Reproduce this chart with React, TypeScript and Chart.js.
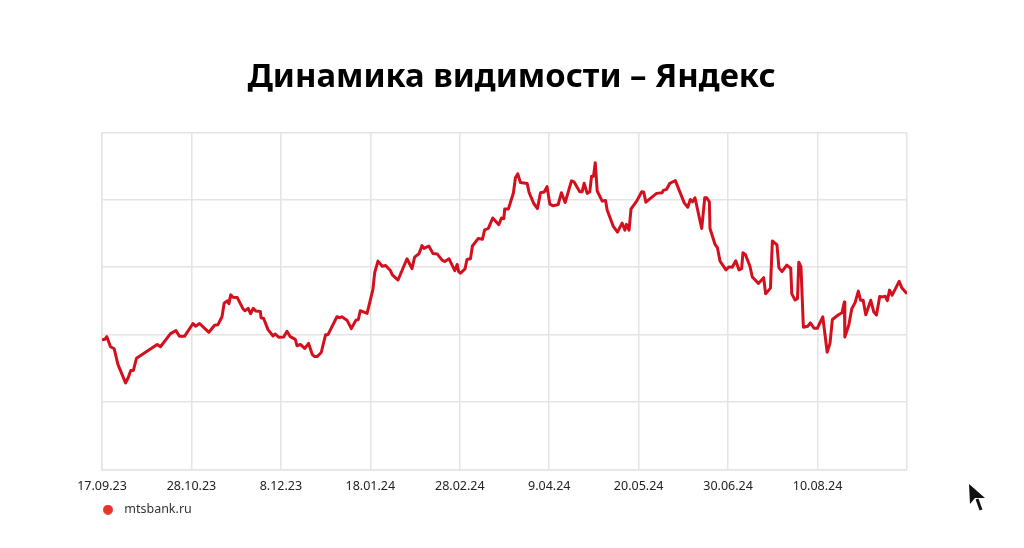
import React, { useEffect, useRef } from "react";
import { Chart, registerables } from "chart.js";

Chart.register(...registerables);

const chartTitle = "Динамика видимости – Яндекс";
const seriesName = "mtsbank.ru";
const tickLabels = ["17.09.23", "28.10.23", "8.12.23", "18.01.24", "28.02.24", "9.04.24", "20.05.24", "30.06.24", "10.08.24"];

// days since 17.09.23
const days = [
  0, 1.3, 2.2, 3.9, 5.6, 7.3, 10.8, 12, 13.2, 14.4, 15.8, 17.2, 25.3, 26.8, 31.4, 33.9, 35.5, 37.8, 40.1, 41.7,
  42.9, 44.7, 49, 51.6, 53.1, 55, 56, 57.4, 58.2, 59, 60, 62, 64.6, 65.5, 67, 68.1, 69.3, 70.6, 72.6, 72.9,
  74.1, 76.1, 78.4, 79.3, 81.1, 83.3, 84.8, 86.3, 88.6, 89.4, 90.9, 92.9, 94.7, 96.4, 97.5, 98.6, 100.5, 102.5, 103.6, 107.7,
  109, 109.9, 112.3, 114.3, 116.4, 117.5, 118.4, 121.5, 124.2, 125, 126.5, 128.5, 130, 132.2, 133.1, 135.7, 139.8, 142.1, 143.3, 145.3,
  146.7, 147.6, 149.8, 151.7, 153.7, 155.9, 157.1, 159.1, 161.7, 162.8, 163.5, 164.3, 166.4, 167.3, 168.9, 169.8, 172.4, 174.4, 175.4, 177.1,
  179.1, 181.9, 183.1, 184.2, 184.6, 186.3, 188.6, 189.5, 190.6, 191.8, 194.9, 195.8, 197.9, 199.6, 201, 202.7, 204, 205.3, 206.8, 209.1,
  210.6, 212.3, 215.2, 216.4, 219, 220.1, 221, 222.4, 223.6, 224.4, 225.3, 226.1, 227, 229.3, 230.8, 231.6, 234.3, 236.3, 238.4, 239.7,
  240.4, 241.6, 242.5, 245.1, 247.4, 248.3, 249.3, 254.2, 256.8, 257.3, 258.8, 260.3, 262.8, 266.9, 268.5, 269.7, 270.7, 271.8, 274.9, 276.3,
  277.2, 278.4, 278.7, 281, 282.1, 283.3, 286, 287.4, 288.9, 290.5, 292, 293.2, 293.8, 294.9, 297, 298.1, 300.9, 303.3, 304.2, 306.4,
  307.3, 309.4, 310.3, 311.7, 313.9, 315.7, 316.2, 317.7, 318.8, 319.4, 320.4, 321.5, 323.5, 324.7, 326.4, 327.9, 330.4, 332.4, 333.7, 334.8,
  337.6, 339.2, 340.3, 340.5, 342.3, 343.7, 345.2, 346.7, 347.7, 348.9, 350.1, 352.4, 353.8, 355, 356.5, 357.8, 359, 360, 361, 362.2,
  365.4, 366.6, 369,
];

const visibility = [
  38.5, 38.6, 39.4, 36.4, 35.8, 31.2, 25.7, 27.2, 29.4, 29.4, 33, 33.6, 37.1, 36.4, 40.3, 41.2, 39.5, 39.5, 41.7, 43.3,
  42.5, 43.3, 40.7, 42.8, 42.9, 45.3, 49.3, 50, 49.2, 51.8, 51.1, 51, 47.7, 47.1, 47.8, 46.2, 47.8, 47, 46.9, 45,
  44.8, 41.5, 39.6, 40.2, 39.2, 39.3, 41, 39.4, 38.6, 36.7, 37.1, 35.9, 37.4, 34.1, 33.5, 33.5, 34.7, 40, 40, 45.3,
  45, 45.3, 44.3, 41.8, 44.3, 44.5, 47.1, 46.3, 53.4, 58.4, 61.8, 60.3, 60.5, 59, 57.7, 56.2, 62.5, 59.6, 63, 64,
  66.4, 65.6, 66.3, 64.1, 63.9, 62.1, 61.7, 62.5, 59, 60.8, 58.7, 58.2, 59.5, 62.3, 62.5, 66.3, 68.5, 68.3, 71.1, 71.5,
  74.6, 72.6, 74.6, 74.4, 77.3, 77.3, 82.1, 86.5, 87.7, 85.1, 84.8, 82.1, 78.9, 77.4, 82.1, 82.3, 83.9, 78.7, 78.2, 78.6,
  82.1, 79.2, 85.6, 85.3, 82.4, 82.4, 84.9, 81.9, 82.4, 87, 87, 91, 82.6, 79.6, 79.8, 76.9, 72.2, 70.4, 73.1, 71,
  72.7, 71, 77.3, 79.6, 82.4, 82.3, 79.3, 81.9, 82.1, 82.8, 83.1, 84.9, 85.7, 79.1, 77.8, 80.1, 79.4, 80.6, 71.5, 80.6,
  80.6, 79.4, 71.5, 66.8, 65.8, 61.8, 59.2, 60.1, 60, 61.9, 59.2, 59.6, 64.3, 63.8, 60.3, 57.1, 55.2, 56.9, 52.1, 53.8,
  67.8, 66.6, 59.8, 58.7, 60.6, 59.7, 52.1, 50.3, 50.7, 61.5, 60.1, 42.2, 42.5, 43.5, 41.9, 41.9, 45.3, 34.8, 37.4, 44.5,
  45.9, 46.5, 49.7, 39.3, 42.8, 47.7, 49.5, 52.9, 50.2, 50.2, 45.9, 50.2, 46.7, 45.8, 51.3, 51.2, 51.4, 50.1, 53.2, 51.7,
  55.8, 53.9, 52.1,
];

const FONT = "'Noto Sans', sans-serif";
const GRID = "#e4e4e4";

function legendDot(): HTMLCanvasElement {
  const c = document.createElement("canvas");
  c.width = 10;
  c.height = 10;
  const g = c.getContext("2d")!;
  g.fillStyle = "#e8352b";
  g.beginPath();
  g.arc(5, 5, 5, 0, Math.PI * 2);
  g.fill();
  return c;
}

export default function App() {
  const ref = useRef<HTMLCanvasElement>(null);
  useEffect(() => {
    document.body.style.margin = "0";
    const chart = new Chart(ref.current!, {
      type: "line",
      data: {
        datasets: [
          {
            label: seriesName,
            data: days.map((d, i) => ({ x: d, y: visibility[i] })),
            borderColor: "#d40f1e",
            backgroundColor: "#e8352b",
            borderWidth: 3,
            pointRadius: 0,
            tension: 0,
            borderJoinStyle: "round",
          },
        ],
      },
      plugins: [
        {
          id: "nudgeBlocks",
          afterLayout(c: any) {
            c.titleBlock.left += 7;
            c.titleBlock.right += 7;
            c.legend.left -= 5;
            c.legend.right -= 5;
          },
        },
      ],
      options: {
        animation: false,
        responsive: false,
        layout: { padding: { left: 102, right: 117, top: 0, bottom: 22 } },
        scales: {
          x: {
            type: "linear",
            min: 0,
            max: 369,
            afterBuildTicks: (s: any) => {
              s.ticks = Array.from({ length: 10 }, (_, i) => ({ value: i * 41 }));
            },
            grid: { color: GRID, lineWidth: 1.5, drawTicks: false },
            border: { color: GRID, width: 1.5 },
            ticks: {
              color: "#222",
              font: { family: FONT, size: 12.5 },
              padding: 9,
              autoSkip: false,
              maxRotation: 0,
              callback: (_v: any, i: number) => tickLabels[i] ?? "",
            },
          },
          y: {
            min: 0,
            max: 100,
            grid: { color: GRID, lineWidth: 1.5, drawTicks: false },
            border: { color: GRID, width: 1.5 },
            ticks: { display: false, stepSize: 20 },
          },
        },
        plugins: {
          title: {
            display: true,
            text: chartTitle,
            color: "#000",
            font: { family: FONT, size: 32.8, weight: 700 },
            padding: { top: 57.5, bottom: 35.5 },
          },
          legend: {
            display: true,
            position: "bottom",
            align: "start",
            labels: {
              usePointStyle: true,
              pointStyle: legendDot(),
              pointStyleWidth: 20,
              color: "#333",
              font: { family: FONT, size: 12.5 },
              padding: 1,
            },
          },
          tooltip: { enabled: false },
        },
      },
    } as any);
    return () => chart.destroy();
  }, []);
  return (
    <div style={{ position: "relative", width: 1024, height: 548, background: "#fff" }}>
      <canvas ref={ref} width={1024} height={548} style={{ display: "block" }} />
      <svg style={{ position: "absolute", left: 960, top: 478 }} width={36} height={38}>
        <path d="M9 6 L10 26 L15 20 L25 20 Z" fill="#111" />
        <path d="M17 21 L21 32" stroke="#111" strokeWidth={3} />
      </svg>
    </div>
  );
}
